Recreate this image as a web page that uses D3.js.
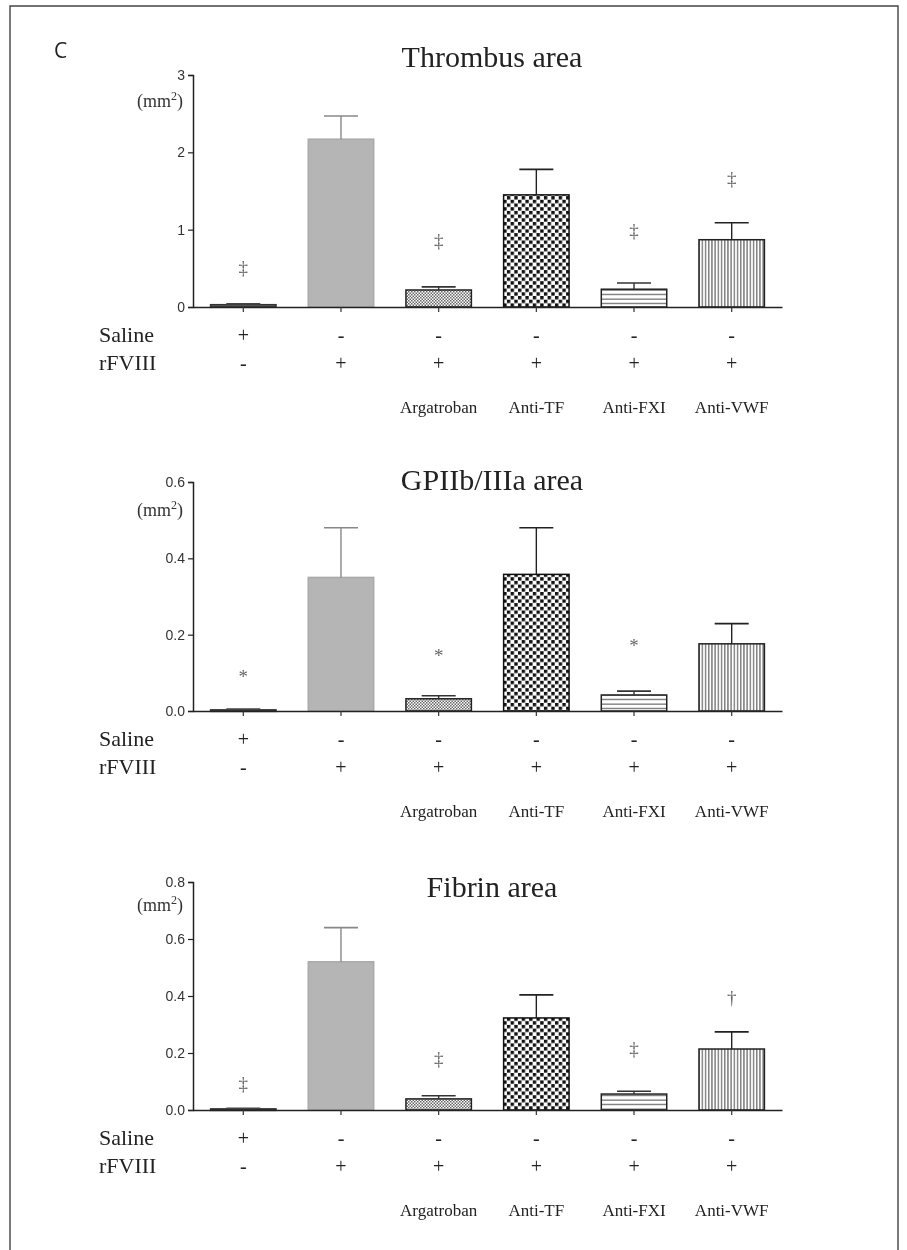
<!DOCTYPE html>
<html>
<head>
<meta charset="utf-8">
<script src="https://cdn.jsdelivr.net/npm/d3@7"></script>
<style>
  body { margin: 0; background: #fff; }
  svg { display: block; will-change: transform; }
</style>
</head>
<body>
<div id="chart"></div>
<script>
'use strict';

// groups and the +/- rows under each panel
const groups = ["Saline", "rFVIII", "Argatroban", "Anti-TF", "Anti-FXI", "Anti-VWF"];
const salineRow = ["+", "-", "-", "-", "-", "-"];
const rfviiiRow = ["-", "+", "+", "+", "+", "+"];
const treatmentLabels = ["", "", "Argatroban", "Anti-TF", "Anti-FXI", "Anti-VWF"];

// Thrombus area (mm2)
const thrombusMean = [0.03, 2.17, 0.22, 1.45, 0.23, 0.87];
const thrombusErr  = [0.01, 0.30, 0.04, 0.33, 0.08, 0.22];
const thrombusSig  = ["‡", "", "‡", "", "‡", "‡"];
const thrombusSigAt = [0.52, null, 0.87, null, 1.00, 1.67];
const thrombusTicks = [0, 1, 2, 3];

// GPIIb/IIIa area (mm2)
const gpMean = [0.003, 0.35, 0.032, 0.358, 0.042, 0.176];
const gpErr  = [0.002, 0.13, 0.008, 0.122, 0.010, 0.053];
const gpSig  = ["*", "", "*", "", "*", ""];
const gpSigAt = [0.092, null, 0.147, null, 0.174, null];
const gpTicks = [0, 0.2, 0.4, 0.6];

// Fibrin area (mm2)
const fibrinMean = [0.004, 0.52, 0.039, 0.323, 0.056, 0.214];
const fibrinErr  = [0.002, 0.12, 0.011, 0.081, 0.010, 0.060];
const fibrinSig  = ["‡", "", "‡", "", "‡", "†"];
const fibrinSigAt = [0.095, null, 0.182, null, 0.218, 0.397];
const fibrinTicks = [0, 0.2, 0.4, 0.6, 0.8];

const width = 907, height = 1250;
const serif = "'Liberation Serif', 'Times New Roman', serif";
const sans = "'Liberation Sans', Arial, sans-serif";

const svg = d3.select("#chart").append("svg")
  .attr("width", width)
  .attr("height", height);

// fill patterns for the bars
const defs = svg.append("defs");

const pFine = defs.append("pattern").attr("id", "p-fine")
  .attr("patternUnits", "userSpaceOnUse").attr("width", 3).attr("height", 3);
pFine.append("rect").attr("width", 3).attr("height", 3).attr("fill", "#fff");
pFine.append("rect").attr("width", 1.5).attr("height", 1.5).attr("fill", "#666");
pFine.append("rect").attr("x", 1.5).attr("y", 1.5).attr("width", 1.5).attr("height", 1.5).attr("fill", "#666");

const pCheck = defs.append("pattern").attr("id", "p-check")
  .attr("patternUnits", "userSpaceOnUse").attr("width", 7.4).attr("height", 7.4);
pCheck.append("rect").attr("width", 7.4).attr("height", 7.4).attr("fill", "#fff");
pCheck.append("rect").attr("width", 3.4).attr("height", 3.4).attr("fill", "#111");
pCheck.append("rect").attr("x", 3.7).attr("y", 3.7).attr("width", 3.4).attr("height", 3.4).attr("fill", "#111");

const pHoriz = defs.append("pattern").attr("id", "p-horiz")
  .attr("patternUnits", "userSpaceOnUse").attr("width", 8).attr("height", 4.5);
pHoriz.append("rect").attr("width", 8).attr("height", 4.5).attr("fill", "#fff");
pHoriz.append("rect").attr("y", 1.5).attr("width", 8).attr("height", 1.2).attr("fill", "#666");

const pVert = defs.append("pattern").attr("id", "p-vert")
  .attr("patternUnits", "userSpaceOnUse").attr("width", 3.2).attr("height", 8);
pVert.append("rect").attr("width", 3.2).attr("height", 8).attr("fill", "#fff");
pVert.append("rect").attr("x", 1).attr("width", 1.1).attr("height", 8).attr("fill", "#555");

const barFill = ["#666", "#b5b5b5", "url(#p-fine)", "url(#p-check)", "url(#p-horiz)", "url(#p-vert)"];
const barStroke = ["#333", "#aaa", "#222", "#111", "#222", "#222"];
const errColor = ["#444", "#888", "#333", "#222", "#333", "#222"];

// frame round the figure (open at the bottom)
svg.append("path")
  .attr("d", "M10,1250 L10,6 L898,6 L898,1250")
  .attr("fill", "none")
  .attr("stroke", "#444")
  .attr("stroke-width", 1.4);

svg.append("text")
  .attr("x", 54).attr("y", 58)
  .style("font-family", "'Open Sans', sans-serif")
  .style("font-size", "21px")
  .attr("fill", "#222")
  .text("C");

const x = d3.scaleBand()
  .domain(groups)
  .range([193, 782])
  .paddingInner(0.33)
  .paddingOuter(0.18);

function drawPanel(p) {
  const y = d3.scaleLinear().domain([0, p.max]).range([p.base, p.top]);
  const g = svg.append("g");

  // title
  g.append("text")
    .attr("x", 492).attr("y", p.titleY)
    .attr("text-anchor", "middle")
    .style("font-family", serif)
    .style("font-size", "30px")
    .attr("fill", "#222")
    .text(p.title);

  // unit label
  const u = g.append("text")
    .attr("x", 183).attr("y", p.unitY)
    .attr("text-anchor", "end")
    .style("font-family", serif)
    .style("font-size", "18px")
    .attr("fill", "#333");
  u.append("tspan").text("(mm");
  u.append("tspan").attr("dy", -7).style("font-size", "12px").text("2");
  u.append("tspan").attr("dy", 7).text(")");

  // bars
  g.selectAll("rect.bar")
    .data(p.mean)
    .enter().append("rect")
      .attr("class", "bar")
      .attr("x", (d, i) => x(groups[i]))
      .attr("y", d => y(d))
      .attr("width", x.bandwidth())
      .attr("height", d => Math.max(1.5, p.base - y(d)))
      .attr("fill", (d, i) => barFill[i])
      .attr("stroke", (d, i) => barStroke[i])
      .attr("stroke-width", 1.5);

  // upper error bars
  const cx = i => x(groups[i]) + x.bandwidth() / 2;
  const eb = g.append("g");
  p.mean.forEach(function(m, i) {
    const top = y(m + p.err[i]);
    eb.append("line")
      .attr("x1", cx(i)).attr("x2", cx(i))
      .attr("y1", y(m)).attr("y2", top)
      .attr("stroke", errColor[i]).attr("stroke-width", 1.4);
    eb.append("line")
      .attr("x1", cx(i) - 17).attr("x2", cx(i) + 17)
      .attr("y1", top).attr("y2", top)
      .attr("stroke", errColor[i]).attr("stroke-width", 1.6);
  });

  // significance marks
  g.selectAll("text.sig")
    .data(p.sig)
    .enter().append("text")
      .attr("class", "sig")
      .attr("x", (d, i) => cx(i))
      .attr("y", (d, i) => p.sigAt[i] == null ? 0 : y(p.sigAt[i]) + 7)
      .attr("text-anchor", "middle")
      .style("font-family", serif)
      .style("font-size", "19px")
      .attr("fill", "#666")
      .text(d => d);

  // y axis
  const yAxis = g.append("g")
    .attr("transform", "translate(193,0)")
    .call(d3.axisLeft(y).tickValues(p.ticks).tickSize(5).tickPadding(3)
      .tickFormat(p.max >= 1 ? d3.format("d") : d3.format(".1f")));
  yAxis.select(".domain").attr("stroke", "#222").attr("stroke-width", 1.5);
  yAxis.selectAll(".tick line").attr("stroke", "#222").attr("stroke-width", 1.2);
  yAxis.selectAll(".tick text")
    .style("font-family", sans)
    .style("font-size", "14px")
    .attr("fill", "#333");

  // x axis along the baseline, ticks under each group
  const xAxis = g.append("g")
    .attr("transform", "translate(0," + p.base + ")")
    .call(d3.axisBottom(x).tickSize(5).tickSizeOuter(0).tickFormat(""));
  xAxis.select(".domain").attr("stroke", "#222").attr("stroke-width", 1.5);
  xAxis.selectAll(".tick line").attr("stroke", "#333").attr("stroke-width", 1.2);

  // rows under the axis
  const rows = g.append("g").attr("fill", "#222");
  rows.append("text").attr("x", 99).attr("y", p.base + 35)
    .style("font-family", serif).style("font-size", "22px").text("Saline");
  rows.append("text").attr("x", 99).attr("y", p.base + 63)
    .style("font-family", serif).style("font-size", "22px").text("rFVIII");
  rows.selectAll("text.sal")
    .data(salineRow).enter().append("text")
      .attr("class", "sal")
      .attr("x", (d, i) => cx(i)).attr("y", p.base + 35)
      .attr("text-anchor", "middle")
      .style("font-family", serif).style("font-size", "20px")
      .text(d => d);
  rows.selectAll("text.rf")
    .data(rfviiiRow).enter().append("text")
      .attr("class", "rf")
      .attr("x", (d, i) => cx(i)).attr("y", p.base + 63)
      .attr("text-anchor", "middle")
      .style("font-family", serif).style("font-size", "20px")
      .text(d => d);
  rows.selectAll("text.tr")
    .data(treatmentLabels).enter().append("text")
      .attr("class", "tr")
      .attr("x", (d, i) => cx(i)).attr("y", p.base + 106)
      .attr("text-anchor", "middle")
      .style("font-family", serif).style("font-size", "17px")
      .text(d => d);
}

drawPanel({title: "Thrombus area", max: 3, top: 75, base: 307, titleY: 67, unitY: 107,
  mean: thrombusMean, err: thrombusErr, sig: thrombusSig, sigAt: thrombusSigAt, ticks: thrombusTicks});
drawPanel({title: "GPIIb/IIIa area", max: 0.6, top: 482, base: 711, titleY: 490, unitY: 516,
  mean: gpMean, err: gpErr, sig: gpSig, sigAt: gpSigAt, ticks: gpTicks});
drawPanel({title: "Fibrin area", max: 0.8, top: 882, base: 1110, titleY: 897, unitY: 911,
  mean: fibrinMean, err: fibrinErr, sig: fibrinSig, sigAt: fibrinSigAt, ticks: fibrinTicks});
</script>
</body>
</html>
